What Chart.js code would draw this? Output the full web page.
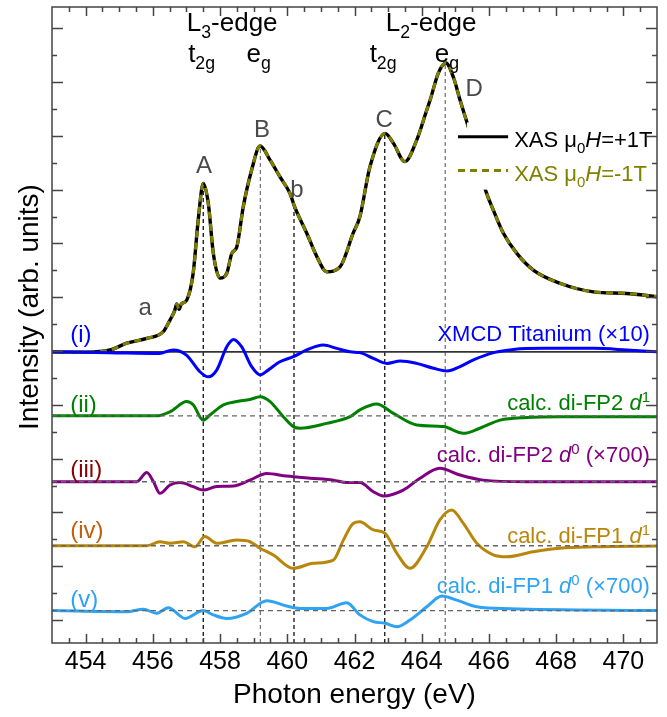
<!doctype html>
<html lang="en">
<head>
<meta charset="utf-8">
<title>Ti L-edge XAS and XMCD</title>
<script src="https://cdn.jsdelivr.net/npm/chart.js"></script>
<style>
  body { margin: 0; background: #fff; }
  canvas { display: block; }
</style>
</head>
<body>
<canvas id="chart" width="667" height="717"></canvas>
<script>
// photon energy (eV) / stacked intensity (arb. units) for every trace
const xasE = [453.0, 454.0, 454.73, 455.22, 455.82, 456.31, 456.51, 456.65, 456.71, 456.78, 456.85, 457.01, 457.2, 457.35, 457.5, 457.65, 457.8, 458.0, 458.2, 458.35, 458.5, 458.69, 458.94, 459.19, 459.49, 459.78, 460.08, 460.22, 460.58, 460.88, 461.17, 461.57, 461.96, 462.16, 462.46, 462.91, 463.16, 463.5, 463.85, 464.15, 464.25, 464.5, 464.72, 464.95, 465.14, 465.34, 465.59, 465.88, 466.13, 466.43, 466.83, 467.32, 468.11, 469.11, 470.1, 471.0];
const xasI = [9.96, 9.96, 10.04, 10.29, 10.47, 10.72, 11.15, 11.5, 11.75, 11.55, 11.75, 11.9, 12.89, 14.87, 16.23, 15.49, 13.63, 12.71, 12.89, 13.63, 13.88, 15.36, 16.73, 17.62, 17.1, 16.48, 15.86, 15.36, 14.38, 13.51, 12.95, 13.13, 14.38, 14.99, 16.85, 18.09, 17.72, 17.04, 17.84, 18.96, 19.33, 20.35, 20.71, 20.15, 19.33, 18.52, 17.47, 16.05, 15.24, 14.38, 13.63, 13.01, 12.52, 12.2, 12.14, 12.02];

const xmcdE = [453.0, 454.7, 456.19, 456.6, 457.0, 457.4, 457.65, 457.9, 458.2, 458.4, 458.64, 458.94, 459.19, 459.43, 459.78, 460.18, 460.58, 461.07, 461.47, 461.87, 462.16, 462.56, 462.96, 463.36, 463.85, 464.35, 464.75, 465.14, 465.54, 466.14, 466.73, 467.63, 469.12, 470.11, 471.0];
const xmcdI = [9.97, 9.94, 9.91, 10.04, 9.85, 9.23, 9.04, 9.29, 10.16, 10.43, 10.16, 9.42, 9.11, 9.29, 9.6, 9.79, 10.04, 10.22, 10.1, 9.97, 9.94, 9.73, 9.54, 9.63, 9.54, 9.36, 9.26, 9.42, 9.67, 9.94, 10.06, 10.1, 10.1, 10.04, 9.97];

const fp2d1E = [453.0, 456.1, 456.51, 457.01, 457.2, 457.5, 457.7, 458.1, 458.5, 458.89, 459.19, 459.49, 459.88, 460.18, 460.38, 461.17, 461.87, 462.16, 462.66, 463.16, 463.85, 464.64, 465.24, 465.73, 466.33, 467.12, 468.11, 471.0];
const fp2d1I = [7.59, 7.59, 7.74, 8.12, 8.0, 7.43, 7.62, 8.0, 8.12, 8.2, 8.3, 8.12, 7.56, 7.19, 7.13, 7.31, 7.56, 7.81, 8.03, 7.68, 7.25, 7.19, 6.94, 7.13, 7.43, 7.53, 7.56, 7.56];

const fp2d0E = [453.0, 455.52, 455.82, 456.02, 456.21, 456.51, 456.81, 457.2, 457.5, 457.9, 458.39, 458.89, 459.39, 459.98, 460.68, 461.37, 461.77, 462.16, 462.56, 462.86, 463.45, 463.95, 464.54, 465.14, 465.83, 467.12, 471.0];
const fp2d0I = [5.14, 5.14, 5.48, 5.14, 4.71, 5.02, 5.11, 4.96, 4.83, 4.96, 4.98, 5.2, 5.45, 5.35, 5.27, 5.2, 5.11, 5.11, 4.77, 4.61, 4.83, 5.27, 5.64, 5.39, 5.2, 5.14, 5.14];

const fp1d1E = [453.0, 455.82, 456.21, 456.51, 456.91, 457.25, 457.55, 457.9, 458.5, 458.89, 459.19, 459.58, 460.18, 460.77, 461.37, 461.67, 461.96, 462.16, 462.56, 462.91, 463.26, 463.65, 464.15, 464.54, 464.89, 465.24, 465.64, 466.13, 466.53, 467.32, 468.11, 469.11, 471.0];
const fp1d1I = [2.76, 2.76, 2.91, 2.85, 2.91, 2.72, 3.1, 2.85, 2.97, 2.91, 2.67, 2.42, 1.92, 2.11, 2.23, 2.97, 3.59, 3.65, 3.35, 3.22, 2.48, 1.92, 2.72, 3.72, 4.09, 3.59, 2.85, 2.42, 2.35, 2.54, 2.67, 2.72, 2.75];

const fp1d0E = [453.0, 455.22, 455.72, 456.11, 456.46, 456.96, 457.5, 457.8, 458.2, 458.79, 459.39, 459.98, 460.38, 461.17, 461.77, 462.16, 462.56, 462.91, 463.26, 463.65, 464.15, 464.6, 465.04, 465.64, 466.63, 471.0];
const fp1d0I = [0.35, 0.31, 0.4, 0.25, 0.46, 0.06, 0.35, 0.19, 0.06, 0.25, 0.72, 0.52, 0.43, 0.43, 0.64, 0.19, -0.06, -0.12, -0.25, 0.0, 0.49, 0.89, 0.74, 0.49, 0.42, 0.35];

// zero level of each stacked trace
const xmcdZero = 9.97;
const calcZero = [7.59, 5.14, 2.76, 0.35];

// t2g / eg / shoulder energies marked with vertical guides
const markE = [457.5, 459.2, 460.2, 462.9, 464.7];
const markEg = [false, true, false, false, true];

const xTicks = [454, 456, 458, 460, 462, 464, 466, 468, 470];
const yMin = -0.855, yMax = 22.79;

const FONT = '"Liberation Sans", Arial, Helvetica, sans-serif';

const pts = (e, v) => e.map((x, i) => ({ x: x, y: v[i] }));

// XAS value at an energy, linear between samples
function xasAt(e) {
  for (let i = 1; i < xasE.length; i++) {
    if (e <= xasE[i]) {
      const t = (e - xasE[i - 1]) / (xasE[i] - xasE[i - 1]);
      return xasI[i - 1] + t * (xasI[i] - xasI[i - 1]);
    }
  }
  return xasI[xasI.length - 1];
}

function curve(label, data, color, order, extra) {
  return Object.assign({
    label: label, data: data, borderColor: color, borderWidth: 3,
    pointRadius: 0, fill: false, cubicInterpolationMode: 'monotone', order: order
  }, extra || {});
}

const datasets = [];
calcZero.forEach(z => datasets.push(curve('zero', pts([453, 471], [z, z]), '#666', 1,
  { borderWidth: 1.4, borderDash: [5, 4], cubicInterpolationMode: 'default' })));
datasets.push(curve('XMCD zero', pts([453, 471], [xmcdZero, xmcdZero]), '#333', 8, { borderWidth: 1.6 }));
markE.forEach((e, i) => datasets.push(curve('mark', pts([e, e], [yMin, xasAt(e)]),
  markEg[i] ? '#777' : '#111', 9, { borderWidth: 1.3, borderDash: [4, 3], cubicInterpolationMode: 'default' })));
datasets.push(curve('XAS -1T', pts(xasE, xasI), '#808000', 3, { borderDash: [7, 5] }));
datasets.push(curve('XAS +1T', pts(xasE, xasI), '#000', 4, { borderWidth: 3.4 }));
datasets.push(curve('XMCD', pts(xmcdE, xmcdI), '#0000ff', 2));
datasets.push(curve('FP2 d1', pts(fp2d1E, fp2d1I), '#008000', 2));
datasets.push(curve('FP2 d0', pts(fp2d0E, fp2d0I), '#800080', 2));
datasets.push(curve('FP1 d1', pts(fp1d1E, fp1d1I), '#b8860b', 2));
datasets.push(curve('FP1 d0', pts(fp1d0E, fp1d0I), '#2ea3f2', 2));

// text with sub/superscript and italic pieces, y is the baseline
function rich(ctx, parts, x, y, size, color, align) {
  const pieces = parts.map(p => {
    const t = p[0], s = p[1] || '';
    const small = s === 'sub' || s === 'sup';
    const font = (s === 'i' ? 'italic ' : '') + (small ? size * 0.68 : size) + 'px ' + FONT;
    ctx.font = font;
    return { t: t, font: font, w: ctx.measureText(t).width,
      dy: s === 'sub' ? size * 0.25 : s === 'sup' ? -size * 0.38 : 0 };
  });
  const total = pieces.reduce((a, p) => a + p.w, 0);
  let cx = align === 'right' ? x - total : align === 'center' ? x - total / 2 : x;
  ctx.fillStyle = color;
  ctx.textAlign = 'left';
  ctx.textBaseline = 'alphabetic';
  pieces.forEach(p => { ctx.font = p.font; ctx.fillText(p.t, cx, y + p.dy); cx += p.w; });
}

const decor = {
  id: 'decor',
  afterDatasetsDraw(chart) {
    const { ctx, chartArea: a, scales: { x, y } } = chart;
    const X = v => x.getPixelForValue(v), Y = v => y.getPixelForValue(v);
    ctx.save();

    // legend, on a white box over the XAS tail
    ctx.fillStyle = '#fff';
    ctx.fillRect(X(465.35), Y(18.5), X(470.95) - X(465.35), Y(16.0) - Y(18.5));
    ctx.lineWidth = 3;
    ctx.strokeStyle = '#000';
    ctx.beginPath(); ctx.moveTo(X(465.08), Y(17.97)); ctx.lineTo(X(466.57), Y(17.97)); ctx.stroke();
    ctx.strokeStyle = '#808000';
    ctx.setLineDash([7, 5]);
    ctx.beginPath(); ctx.moveTo(X(465.08), Y(16.71)); ctx.lineTo(X(466.57), Y(16.71)); ctx.stroke();
    ctx.setLineDash([]);
    rich(ctx, [['XAS '], ['\u03bc'], ['0', 'sub'], ['H', 'i'], ['=+1T']], X(466.75), Y(17.57), 22, '#000', 'left');
    rich(ctx, [['XAS '], ['\u03bc'], ['0', 'sub'], ['H', 'i'], ['=-1T']], X(466.75), Y(16.31), 22, '#808000', 'left');

    // frame with inward ticks on all four sides
    ctx.strokeStyle = '#444';
    ctx.lineWidth = 1.5;
    ctx.strokeRect(a.left, a.top, a.right - a.left, a.bottom - a.top);
    ctx.beginPath();
    for (let e = 453.5; e < 471; e += 0.5) {
      const px = Math.round(X(e)) + 0.5, len = e % 2 === 0 ? 9 : 5;
      ctx.moveTo(px, a.bottom); ctx.lineTo(px, a.bottom - len);
      ctx.moveTo(px, a.top); ctx.lineTo(px, a.top + len);
    }
    for (let v = 0; v <= 22; v++) {
      const py = Math.round(Y(v)) + 0.5, len = v % 2 === 0 ? 11 : 5;
      ctx.moveTo(a.left, py); ctx.lineTo(a.left + len, py);
      ctx.moveTo(a.right, py); ctx.lineTo(a.right - len, py);
    }
    ctx.stroke();

    // edge and peak annotations
    rich(ctx, [['L'], ['3', 'sub'], ['-edge']], X(458.36), 31, 26, '#000', 'center');
    rich(ctx, [['L'], ['2', 'sub'], ['-edge']], X(464.28), 31, 26, '#000', 'center');
    rich(ctx, [['t'], ['2g', 'sub']], X(457.45), 62, 26, '#000', 'center');
    rich(ctx, [['e'], ['g', 'sub']], X(459.15), 62, 26, '#000', 'center');
    rich(ctx, [['t'], ['2g', 'sub']], X(462.85), 62, 26, '#000', 'center');
    rich(ctx, [['e'], ['g', 'sub']], X(464.75), 62, 26, '#000', 'center');

    const gray = '#4a4a4a';
    rich(ctx, [['a']], X(455.77), Y(11.34), 24, gray, 'center');
    rich(ctx, [['A']], X(457.52), Y(16.62), 24, gray, 'center');
    rich(ctx, [['B']], X(459.25), Y(17.96), 24, gray, 'center');
    rich(ctx, [['b']], X(460.29), Y(15.72), 24, gray, 'center');
    rich(ctx, [['C']], X(462.88), Y(18.33), 24, gray, 'center');
    rich(ctx, [['D']], X(465.56), Y(19.48), 24, gray, 'center');

    // trace names
    const xl = X(453.54), xr = X(470.79);
    rich(ctx, [['(i)']], xl, Y(10.33), 24, '#0000ff', 'left');
    rich(ctx, [['(ii)']], xl, Y(7.73), 24, '#008000', 'left');
    rich(ctx, [['(iii)']], xl, Y(5.32), 24, '#8b0000', 'left');
    rich(ctx, [['(iv)']], xl, Y(3.05), 24, '#c0600a', 'left');
    rich(ctx, [['(v)']], xl, Y(0.48), 24, '#2ea3f2', 'left');
    rich(ctx, [['XMCD Titanium (\u00d710)']], xr, Y(10.37), 22, '#0000ff', 'right');
    rich(ctx, [['calc. di-FP2 '], ['d', 'i'], ['1', 'sup']], xr, Y(7.81), 22, '#008000', 'right');
    rich(ctx, [['calc. di-FP2 '], ['d', 'i'], ['0', 'sup'], [' (\u00d7700)']], xr, Y(5.87), 22, '#800080', 'right');
    rich(ctx, [['calc. di-FP1 '], ['d', 'i'], ['1', 'sup']], xr, Y(2.86), 22, '#b8860b', 'right');
    rich(ctx, [['calc. di-FP1 '], ['d', 'i'], ['0', 'sup'], [' (\u00d7700)']], xr, Y(1.0), 22, '#2ea3f2', 'right');

    // axis titles
    ctx.fillStyle = '#000';
    ctx.font = '28px ' + FONT;
    ctx.textAlign = 'center';
    ctx.textBaseline = 'middle';
    ctx.fillText('Photon energy (eV)', (a.left + a.right) / 2, 695);
    ctx.translate(30, 307);
    ctx.rotate(-Math.PI / 2);
    ctx.fillText('Intensity (arb. units)', 0, 0);
    ctx.restore();
  }
};

new Chart(document.getElementById('chart'), {
  type: 'line',
  data: { datasets: datasets },
  plugins: [decor],
  options: {
    responsive: false,
    animation: false,
    layout: { padding: { left: 0, right: 10, top: 7, bottom: 0 } },
    plugins: { legend: { display: false }, tooltip: { enabled: false } },
    scales: {
      x: {
        type: 'linear', min: 453, max: 471,
        grid: { display: false, drawTicks: false }, border: { display: false },
        afterBuildTicks: s => { s.ticks = xTicks.map(v => ({ value: v })); },
        afterFit: s => { s.height = 74; },
        ticks: { font: { family: FONT, size: 25 }, color: '#000', padding: 4, maxRotation: 0, autoSkip: false }
      },
      y: {
        min: yMin, max: yMax,
        grid: { display: false }, border: { display: false },
        ticks: { display: false },
        afterFit: s => { s.width = 52; }
      }
    }
  }
});
</script>
</body>
</html>
